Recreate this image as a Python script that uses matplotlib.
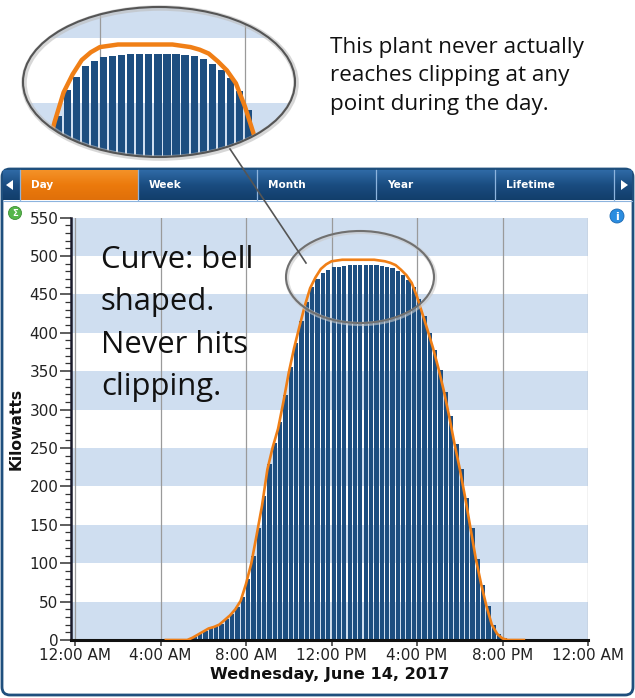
import numpy as np
import matplotlib.pyplot as plt
from matplotlib.colors import LinearSegmentedColormap
from matplotlib.patches import Ellipse, FancyBboxPatch, Circle, Polygon

W, H = 635, 698

# ---- data (kW, 15-minute readings) ----
bar_start = 5.25   # first bar at 5:15 AM
kw_bars = [1, 4, 8, 12, 15, 18, 21, 27, 34, 43, 56,
           80, 109, 146, 187, 229, 257, 284, 319, 356, 387, 415, 440,
           460, 470, 478, 482,
           485, 486, 487, 488, 488, 488, 488, 488, 488, 487, 486, 484,
           480, 475, 469, 459, 444, 422, 400, 377, 352, 323, 291, 255,
           222, 185, 146, 106, 72, 44, 20, 8, 2, 1]

line_start = 4.25  # orange curve starts at 4:15 AM
kw_line = [0, 0, 0, 0, 0, 3, 7, 11, 15, 17, 20, 26, 32, 40, 51,
           73, 100, 137, 175, 222, 251, 275, 310, 348, 380, 408, 435,
           458, 472, 483, 489, 493, 494, 495, 495, 495, 495, 495, 495, 495,
           494, 493, 491, 488, 482, 475, 465, 447, 425, 403, 380, 354,
           325, 292, 256, 223, 186, 146, 106, 73, 44, 20, 8, 2, 0, 0, 0, 0]

bar_hours = bar_start + 0.25 * np.arange(len(kw_bars))
line_hours = line_start + 0.25 * np.arange(len(kw_line))

tick_hours = [0, 4, 8, 12, 16, 20, 24]
tick_labels = ["12:00 AM", "4:00 AM", "8:00 AM", "12:00 PM", "4:00 PM", "8:00 PM", "12:00 AM"]
tabs = ["Day", "Week", "Month", "Year", "Lifetime"]
tab_edges = [20, 138, 257, 376, 495, 614]

note_lines = ["This plant never actually", "reaches clipping at any", "point during the day."]
curve_lines = ["Curve: bell", "shaped.", "Never hits", "clipping."]

BAR = "#1d4e80"
ORANGE = "#f07f16"
BAND = "#cfdef0"


def rect(x0, y0, x1, y1):
    return [x0 / W, 1 - y1 / H, (x1 - x0) / W, (y1 - y0) / H]


def draw_chart(ax, lw, white_band="white"):
    ax.set_facecolor(white_band)
    for lo in range(0, 550, 100):
        ax.axhspan(lo, lo + 50, color=BAND, lw=0, zorder=0)
    for h in tick_hours:
        ax.axvline(h, color="#9a9a9a", lw=0.9, zorder=1)
    bars = ax.bar(bar_hours, kw_bars, width=0.25 * 0.8, align="edge",
                  color=BAR, lw=0, zorder=2)
    ln, = ax.plot(line_hours, kw_line, color=ORANGE, lw=lw, zorder=3,
                  solid_joinstyle="round")
    return bars, ln


fig = plt.figure(figsize=(W / 100, H / 100), dpi=100)

# background layer in pixel coordinates
bg = fig.add_axes([0, 0, 1, 1], zorder=0)
bg.axis("off")
bg.add_patch(FancyBboxPatch((2, 169), W - 4, 526, boxstyle="round,pad=0,rounding_size=8",
                            fc="white", ec="#1f4f7d", lw=2))
grad = np.linspace(0, 1, 64).reshape(-1, 1)
bg.imshow(grad, extent=(3, W - 3, 200, 170),
          cmap=LinearSegmentedColormap.from_list("tab", ["#2f6aa6", "#1a4c80", "#123e6b"]),
          aspect="auto", zorder=1)
bg.imshow(grad, extent=(tab_edges[0], tab_edges[1], 200, 170),
          cmap=LinearSegmentedColormap.from_list("day", ["#f49228", "#ec7a0c", "#e0700a"]),
          aspect="auto", zorder=2)
bg.set_xlim(0, W)
bg.set_ylim(H, 0)
for x in tab_edges:
    bg.plot([x, x], [170, 200], color="#8db4de", lw=0.9, zorder=3)
bg.plot([3, W - 3], [200.5, 200.5], color="#8db4de", lw=0.8, zorder=3)
for name, x in zip(tabs, tab_edges[:-1]):
    bg.text(x + 11, 185, name, color="white", fontsize=7.6, fontweight="bold",
            va="center", ha="left", zorder=4)
bg.add_patch(Polygon([[6, 185], [13, 180], [13, 190]], fc="white", zorder=4))
bg.add_patch(Polygon([[628, 185], [621, 180], [621, 190]], fc="white", zorder=4))

# icons
bg.add_patch(Circle((15, 213), 6.5, fc="#55b64a", ec="#3e8f35", lw=0.6, zorder=4))
bg.text(15, 213.5, "\u03a3", color="white", fontsize=6, ha="center", va="center", fontweight="bold", zorder=5)
bg.add_patch(Circle((617, 216), 7, fc="#2b8de0", ec="#1b68b0", lw=0.6, zorder=4))
bg.text(617, 216.5, "i", color="white", fontsize=8, ha="center", va="center", fontweight="bold", zorder=5)

# main chart
ax = fig.add_axes(rect(71, 217.5, 588, 640), zorder=2)
draw_chart(ax, 1.9)
ax.set_xlim(-4 / 21.375, 24)
ax.set_ylim(0, 550)
ax.set_yticks(range(0, 551, 50))
ax.set_yticks(range(0, 551, 10), minor=True)
ax.set_xticks(tick_hours)
ax.set_xticklabels(tick_labels)
for s in ["top", "right"]:
    ax.spines[s].set_visible(False)
ax.spines["left"].set_linewidth(1.8)
ax.spines["left"].set_color("#1a1a2a")
ax.spines["bottom"].set_linewidth(2.2)
ax.spines["bottom"].set_color("#111111")
ax.tick_params(axis="y", which="major", length=8, width=1.1, labelsize=11, pad=1, colors="#333333", labelcolor="#222222")
ax.tick_params(axis="y", which="minor", length=4, width=0.9, colors="#333333")
ax.tick_params(axis="x", length=4, width=1.1, labelsize=11, pad=2, colors="#333333", labelcolor="#222222")
ax.set_xlabel("Wednesday, June 14, 2017", fontsize=11.6, fontweight="bold", labelpad=3, color="#111111")
ax.set_ylabel("Kilowatts", fontsize=11.2, fontweight="bold", color="#111111")
ax.yaxis.set_label_coords(-0.092, 0.5)

# zoomed inset, clipped to an ellipse
ins = fig.add_axes(rect(23, 7, 295, 157), zorder=5)
draw_chart(ins, 3.2, white_band="#e9f0f8")
ins.set_xlim(9.88, 17.38)
ins.set_ylim(408, 524)
ins.axis("off")
clip = Ellipse((0.5, 0.5), 1, 1, transform=ins.transAxes)
for art in list(ins.patches) + list(ins.lines):
    art.set_clip_path(clip)
ins.patch.set_visible(False)

# foreground annotations
fg = fig.add_axes([0, 0, 1, 1], zorder=6)
fg.set_xlim(0, W)
fg.set_ylim(H, 0)
fg.patch.set_alpha(0)
fg.axis("off")
fg.add_patch(Ellipse((160, 83), 272, 150, fc="none", ec="#bdbdbd", lw=4, alpha=0.6))
fg.add_patch(Ellipse((159, 82), 272, 150, fc="none", ec="#555555", lw=1.5))
fg.add_patch(Ellipse((361, 278), 148, 92, fc="none", ec="#c8c8c8", lw=3, alpha=0.6))
fg.add_patch(Ellipse((360, 277), 148, 92, fc="none", ec="#707070", lw=1.5))
fg.plot([230, 306], [149, 263], color="#555555", lw=1.2)

for txt, yb in zip(note_lines, [53, 81.5, 110]):
    fg.text(330, yb, txt, fontsize=16.2, family="Open Sans", color="#111111",
            va="baseline", ha="left")
for txt, yb in zip(curve_lines, [268, 310, 353, 395]):
    fg.text(101, yb, txt, fontsize=22.3, family="Open Sans", color="#111111",
            va="baseline", ha="left")

fig.savefig("out.png", dpi=100)
